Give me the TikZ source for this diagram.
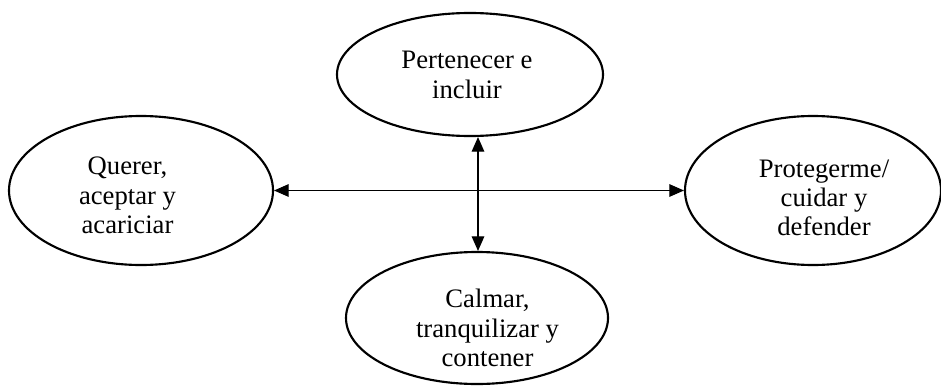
\documentclass[tikz,border=0pt]{standalone}
\usepackage{fontspec}
\setmainfont{Liberation Serif}
\usetikzlibrary{arrows.meta,shapes.geometric}
\begin{document}
\begin{tikzpicture}[x=0.75pt,y=-0.75pt,
  bubble/.style={draw,ellipse,line width=1.6pt,inner sep=0pt},
  caption/.style={align=center,font=\fontsize{20}{22}\selectfont,inner sep=0pt},
  link/.style={line width=0.8pt,{Triangle[length=11pt,width=9.5pt]}-{Triangle[length=11pt,width=9.5pt]}}]
\useasboundingbox (0,0) rectangle (941,385);

% the four ellipses
\node[bubble,minimum width=199.5pt,minimum height=92.25pt] (top) at (470,74.5) {};
\node[bubble,minimum width=198pt,minimum height=111.75pt] (left) at (141,190.5) {};
\node[bubble,minimum width=192pt,minimum height=111.75pt] (right) at (813,190.5) {};
\node[bubble,minimum width=196.5pt,minimum height=99pt] (bot) at (477,318) {};

% their texts
\node[caption] (toptxt) at (467,75) {Pertenecer e\\incluir};
\node[caption] (lefttxt) at (127.5,195.5) {Querer,\\aceptar y\\acariciar};
\node[caption] (righttxt) at (824,198) {Protegerme/\\cuidar y\\defender};
\node[caption] (bottxt) at (487.5,328) {Calmar,\\tranquilizar y\\contener};

% connectors
\coordinate (vx) at (478,0);
\draw[link] (left) -- (right);
\draw[link] (top.south -| vx) -- (bot.north -| vx);
\end{tikzpicture}
\end{document}
